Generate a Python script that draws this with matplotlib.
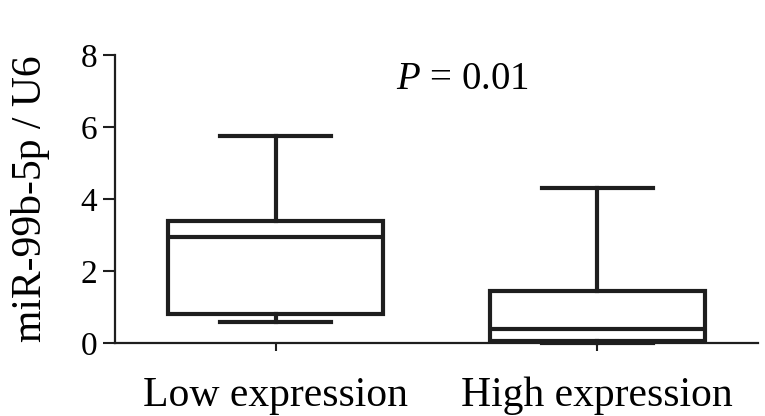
import matplotlib
matplotlib.use('Agg')
import matplotlib.pyplot as plt

# values (miR-99b-5p / U6)
groups = ['Low expression', 'High expression']
whisker_low = [0.60, 0.0]
q1 = [0.80, 0.06]
median = [2.94, 0.40]
q3 = [3.38, 1.46]
whisker_high = [5.75, 4.32]
yticks = [0, 2, 4, 6, 8]
p_label = '$P$ = 0.01'

plt.rcParams['font.family'] = 'Liberation Serif'
plt.rcParams['mathtext.fontset'] = 'custom'
plt.rcParams['mathtext.it'] = 'Liberation Serif:italic'
plt.rcParams['mathtext.rm'] = 'Liberation Serif'

fig = plt.figure(figsize=(7.65, 4.16), dpi=100)
ax = fig.add_axes([0.1503, 0.1748, 0.8405, 0.693])

stats = []
for i in range(len(groups)):
    stats.append({'label': groups[i], 'whislo': whisker_low[i], 'q1': q1[i],
                  'med': median[i], 'q3': q3[i], 'whishi': whisker_high[i]})

col = '#1e1e1e'
lw = 3.0
ax.bxp(stats, positions=[1, 2], widths=0.67, showfliers=False,
       patch_artist=True, capwidths=0.345,
       boxprops=dict(facecolor='white', edgecolor=col, linewidth=lw),
       medianprops=dict(color=col, linewidth=lw),
       whiskerprops=dict(color=col, linewidth=lw),
       capprops=dict(color=col, linewidth=lw))

ax.set_xlim(0.5, 2.5)
ax.set_ylim(0, 8)
ax.set_yticks(yticks)
ax.set_xticks([1, 2])
ax.set_xticklabels(groups, fontsize=30)
ax.tick_params(axis='y', labelsize=24, length=9, width=1.5, pad=4, color=col)
ax.tick_params(axis='x', length=6, width=1.5, pad=18, color=col)
ax.set_ylabel('miR-99b-5p / U6', fontsize=30, labelpad=22)

for s in ['top', 'right']:
    ax.spines[s].set_visible(False)
for s in ['left', 'bottom']:
    ax.spines[s].set_linewidth(1.6)
    ax.spines[s].set_color(col)

ax.text(1.58, 7.31, p_label, fontsize=28, ha='center', va='center')

for a in ax.patches + ax.lines:
    a.set_clip_on(False)

fig.savefig('out.png', dpi=100)
